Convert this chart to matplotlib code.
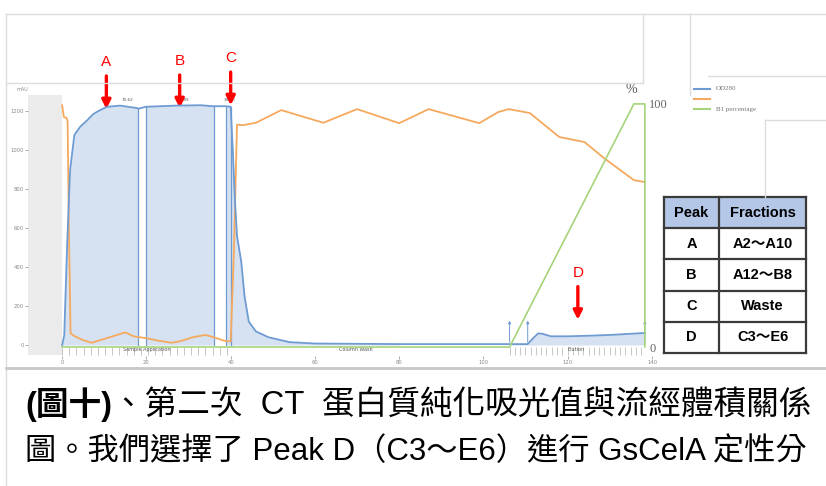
import numpy as np
import matplotlib.pyplot as plt
from matplotlib.lines import Line2D
from matplotlib.patches import Rectangle

W, H = 826, 486

# OD280 trace (mAU) against volume (ml)
od_vol = [0, 0.5, 1.2, 1.9, 2.9, 4.3, 6.0, 7.4, 9.0, 10.7, 13.8, 17.9, 18.1, 19.8, 26.9, 32.9, 35.7, 36.0,
          39.0, 40.0, 40.5, 41.0, 41.5, 42.5, 43.3, 44.3, 46.0, 49.0, 54.0, 60.0, 80.0, 106.2,
          110.5, 112.0, 113.0, 114.0, 116.0, 120.0, 125.0, 130.0, 135.0, 138.3]
od_mau = [0, 50, 520, 900, 1077, 1120, 1154, 1185, 1205, 1222, 1228, 1215, 1212, 1222, 1228, 1230, 1225, 1225,
          1225, 1222, 1000, 750, 560, 430, 250, 120, 70, 40, 15, 8, 5, 5,
          5, 40, 60, 58, 45, 45, 48, 52, 58, 62]

# conductivity trace (drawn on the mAU scale, as in the screenshot)
cond_vol = [0, 0.4, 1.0, 1.3, 1.6, 2.0, 3, 5, 7, 9, 12, 15, 17, 20, 23, 26, 28, 31, 34, 36, 38.5, 40,
            40.8, 41.5, 43, 46, 52, 62, 70, 80, 87, 99, 103.5, 106, 111, 118, 124, 128.6, 135.7, 138.3]
cond_val = [1230, 1170, 1165, 1150, 600, 60, 45, 25, 12, 25, 45, 65, 45, 35, 22, 12, 20, 40, 52, 40, 22, 18,
            500, 1130, 1128, 1140, 1205, 1140, 1210, 1138, 1210, 1138, 1195, 1210, 1190, 1067, 1041, 959, 846, 836]

# B1 percentage
b_vol = [0, 106.2, 135.7, 138.3, 138.3]
b_pct = [0, 0, 100, 100, 0]

peaks = ['A', 'B', 'C', 'D']
fractions = ['A2～A10', 'A12～B8', 'Waste', 'C3～E6']
peak_ranges = [(0, 18.1), (19.8, 36.0), (39.0, 80.0), (106.2, 138.3)]
peak_boundaries = [18.1, 19.8, 36.0, 39.0, 40.0]
elution_marks = [106.2, 110.5, 138.3]
peak_tops = [(15.5, '70.62'), (28.8, '84.89'), (39.8, '39.40')]
arrow_x = [10.5, 27.9, 40.0, 122.4]
arrow_y = [1210, 1215, 1230, 130]

blue = '#6f9bd3'
fill_blue = '#d6e2f1'
orange = '#f5a95e'
green = '#a6d47a'
gray = '#8a8a8a'

fig = plt.figure(figsize=(W / 100, H / 100), dpi=100)

def fx(px):
    return px / W

def fy(py):
    return 1 - py / H

# screenshot frame lines
frame = [((6, 826), (14, 14)), ((6, 6), (14, 486)), ((6, 826), (368, 368)),
         ((6, 643), (83, 83)), ((643, 643), (14, 83)), ((690, 690), (14, 95)),
         ((708, 826), (76, 76)), ((765, 826), (120, 120)), ((765, 765), (120, 197))]
for (x0, x1), (y0, y1) in frame:
    lw = 2.0 if y0 == 368 and y1 == 368 else 1.0
    col = '#c8c8c8' if lw > 1 else '#dcdcdc'
    fig.add_artist(Line2D([fx(x0), fx(x1)], [fy(y0), fy(y1)], color=col, lw=lw))

ax = fig.add_axes([fx(28), fy(356), fx(652 - 28), (356 - 83) / H])
ax.set_xlim(-8.1, 140)
ax.set_ylim(-56, 1344)
for s in ax.spines.values():
    s.set_visible(False)

# grey pre-run block
ax.axvspan(-8.1, 0, ymin=(356 - 355) / 273, ymax=(356 - 95) / 273, color='#ebebeb', lw=0, zorder=0)

# peak fills
v = np.array(od_vol)
m = np.array(od_mau)
for a, b in peak_ranges:
    sel = (v >= a) & (v <= b)
    ax.fill_between(v, 0, m, where=sel, color=fill_blue, lw=0, zorder=1)
ax.plot(od_vol, od_mau, color=blue, lw=1.3, zorder=4)
for xb in peak_boundaries:
    ax.plot([xb, xb], [0, np.interp(xb, od_vol, od_mau)], color=blue, lw=0.9, zorder=3)
for xb in elution_marks:
    ax.annotate('', xy=(xb, 140), xytext=(xb, 0),
                arrowprops=dict(arrowstyle='-|>', color=blue, lw=0.7, mutation_scale=4))
for xp, lab in peak_tops:
    ax.text(xp, 1245, lab, fontsize=3, color='#555555', ha='center', va='bottom')

ax.plot(cond_vol, cond_val, color=orange, lw=1.3, zorder=3)

# fraction marks under the baseline
for lo, hi, step in [(0, 40, 1.7), (106.2, 138.3, 1.25)]:
    ax.vlines(np.arange(lo, hi + 0.01, step), -51, -8, color='#b0b0b0', lw=0.5)
for xs, lab in [(20, 'Sample Application'), (69.8, 'Column Wash'), (122, 'Elution')]:
    ax.text(xs, -22, lab, fontsize=3.5, color='#555555', ha='center', va='center')

ax.set_xticks(range(0, 141, 20))
ax.set_yticks(range(0, 1201, 200))
ax.tick_params(labelsize=3.8, colors=gray, length=2, width=0.5, pad=1)
ax.text(-9.5, 1313, 'mAU', fontsize=3.5, color=gray, ha='center', va='center')

# right % axis
ax2 = ax.twinx()
ax2.set_ylim(-3.7, 108.6)
for s in ax2.spines.values():
    s.set_visible(False)
ax2.plot(b_vol, b_pct, color=green, lw=1.2, zorder=2)
ax2.set_yticks([0, 100])
ax2.set_yticklabels(['0', '100'], family='Liberation Serif', fontsize=9, color='#666666')
ax2.tick_params(length=0, pad=-2)
ax2.text(135.2, 104.5, '%', family='Liberation Serif', fontsize=10, color='#555555', ha='center')

# red arrows and labels
for lab, xa, ya in zip(peaks, arrow_x, arrow_y):
    top = ya + 170
    ax.annotate('', xy=(xa, ya), xytext=(xa, top),
                arrowprops=dict(arrowstyle='-|>', color='red', lw=2.4, mutation_scale=13,
                                shrinkA=0, shrinkB=0),
                annotation_clip=False)
    ax.text(xa, top + 35, lab, color='red', fontsize=11, ha='center', va='bottom',
            family='Liberation Sans')

# legend
for py, col, lab in [(89, blue, 'OD280'), (99, orange, ''), (109, green, 'B1 percentage')]:
    fig.add_artist(Line2D([fx(694), fx(710)], [fy(py), fy(py)], color=col, lw=1.5))
    fig.text(fx(716), fy(py), lab, fontsize=5, color='#777777', family='Liberation Serif', va='center')

# table
tax = fig.add_axes([fx(664), fy(353), fx(806 - 664), (353 - 197) / H])
tax.set_xlim(0, 1)
tax.set_ylim(0, 5)
tax.axis('off')
col_split = (719 - 664) / (806 - 664)
tax.add_patch(Rectangle((0, 4), 1, 1, color='#b4c7e7', lw=0))
tfont = ['Liberation Sans', 'Noto Sans CJK TC']
tax.text(col_split / 2, 4.5, 'Peak', ha='center', va='center', fontsize=10.5, weight='bold', family=tfont)
tax.text((1 + col_split) / 2, 4.5, 'Fractions', ha='center', va='center', fontsize=10.5, weight='bold', family=tfont)
for i, (p, f) in enumerate(zip(peaks, fractions)):
    yc = 3.5 - i
    tax.text(col_split / 2, yc, p, ha='center', va='center', fontsize=10.5, weight='bold', family=tfont)
    tax.text((1 + col_split) / 2, yc, f, ha='center', va='center', fontsize=10.5, weight='bold', family=tfont)
for yl in range(0, 6):
    tax.plot([0, 1], [yl, yl], color='#3a3a3a', lw=1.6, clip_on=False)
tax.plot([0, 0], [0, 5], color='#3a3a3a', lw=1.6, clip_on=False)
tax.plot([1, 1], [0, 5], color='#3a3a3a', lw=1.6, clip_on=False)
tax.plot([col_split, col_split], [0, 5], color='#3a3a3a', lw=1.6, clip_on=False)

# caption
cfont = ['Liberation Sans', 'Noto Sans CJK TC']
fig.canvas.draw()
t1 = fig.text(fx(25), fy(405), '(圖十)', fontsize=23.5, weight='bold', family=cfont, va='center')
fig.canvas.draw()
bb = t1.get_window_extent()
fig.text(bb.x1 / W, fy(405), '、第二次  CT  蛋白質純化吸光值與流經體積關係', fontsize=23.5,
         family=cfont, va='center')
fig.text(fx(25), fy(452), '圖。我們選擇了 Peak D（C3～E6）進行 GsCelA 定性分', fontsize=22.5,
         family=cfont, va='center')

fig.savefig('out.png', dpi=100)
